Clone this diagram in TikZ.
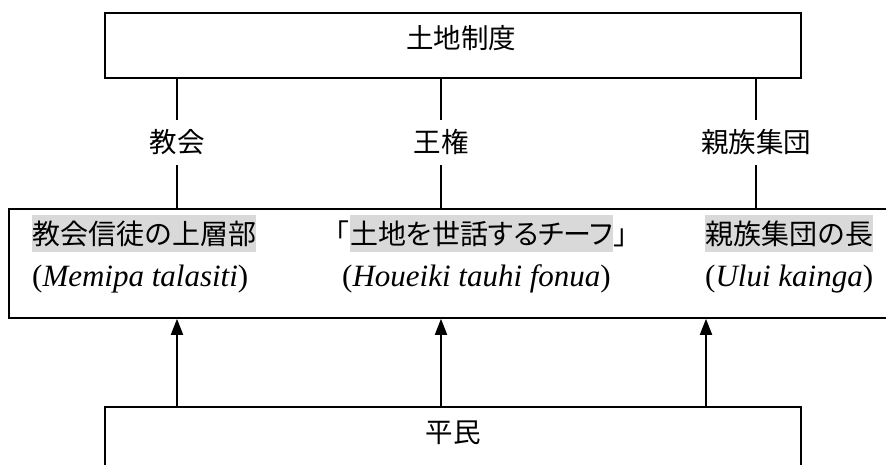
\documentclass[tikz,border=0pt]{standalone}
\usepackage{fontspec}
\setmainfont{Liberation Serif}
\newfontfamily\cjk{Noto Sans CJK JP}
\newfontfamily\cjkp[RawFeature=+palt]{Noto Sans CJK JP}
\usetikzlibrary{arrows.meta}
\definecolor{hlgray}{RGB}{217,217,217}
\tikzset{
  box/.style={draw, line width=1.8pt, inner sep=0pt},
  cjklab/.style={font=\cjk\fontsize{27.5}{30}\selectfont, inner sep=0pt, text height=24.2pt, text depth=3.3pt},
  lab/.style={cjklab, inner xsep=2pt, inner ysep=8.75pt},
  hl/.style={fill=hlgray, font=\cjk\fontsize{28}{30}\selectfont, inner sep=0pt, minimum height=37pt, text height=24.6pt, text depth=3.4pt, anchor=west},
  brk/.style={font=\cjk\fontsize{28}{30}\selectfont, inner sep=0pt, text height=24.6pt, text depth=3.4pt},
  lat/.style={font=\fontsize{31}{34}\selectfont, inner sep=0pt, anchor=base west},
  conn/.style={line width=1.8pt},
  arr/.style={line width=1.8pt, -{Triangle[width=12pt,length=16pt]}},
}
\begin{document}
\begin{tikzpicture}[x=1pt, y=-1pt]
\clip (0,0) rectangle (886,465);
% boxes
\node[box, minimum width=696pt, minimum height=65pt, anchor=north west] (top) at (104,12) {};
\node[box, minimum width=884pt, minimum height=109pt, anchor=north west] (mid) at (8,208) {};
\node[box, minimum width=696pt, minimum height=100pt, anchor=north west] (bot) at (104,406) {};
% box texts
\node[cjklab] (toptxt) at (461,38) {土地制度};
\node[cjklab] (bottxt) at (453,432) {平民};
% labels between top and middle
\node[lab] (l1) at (177,142.5) {教会};
\node[lab] (l2) at (441,142.5) {王権};
\node[lab] (l3) at (756,142.5) {親族集団};
\foreach \n in {l1,l2,l3}{
  \draw[conn] (\n |- top.south) -- (\n.north);
  \draw[conn] (\n.south) -- (\n |- mid.north);
}
% middle box contents
\node[hl] (h1) at (32,233.5) {教会信徒の上層部\hspace{15pt}};
\node[hl, font=\cjkp\fontsize{28}{30}\selectfont] (h2) at (350,233.5) {土地を世話するチーフ};
\node[brk, anchor=east] (b1) at (h2.west) {「};
\node[brk, anchor=west] (b2) at (h2.east) {」};
\node[hl] (h3) at (705,233.5) {親族集団の長};
\node[lat] (t1) at (32,286) {(\textit{Memipa talasiti})};
\node[lat] (t2) at (342,286) {(\textit{Houeiki tauhi fonua})};
\node[lat] (t3) at (705,286) {(\textit{Ului kainga})};
% arrows
\coordinate (c1) at (177,0);
\coordinate (c2) at (441,0);
\coordinate (c3) at (706,0);
\foreach \c in {c1,c2,c3}{
  \draw[arr] (\c |- bot.north) -- (\c |- mid.south);
}
\end{tikzpicture}
\end{document}
